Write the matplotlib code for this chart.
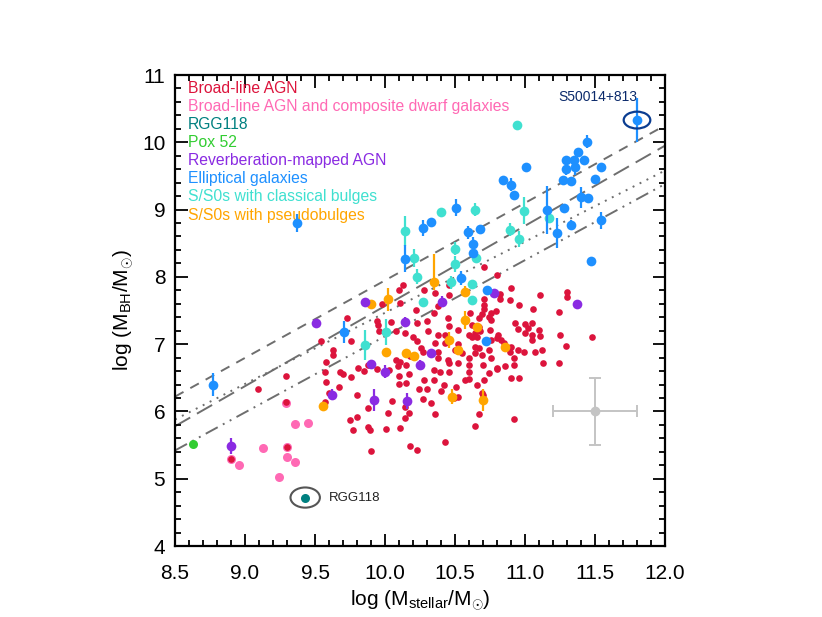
import numpy as np
import matplotlib
matplotlib.use("Agg")
import matplotlib.pyplot as plt
from matplotlib.patches import Ellipse

plt.rcParams['font.family'] = ['Liberation Sans', 'DejaVu Sans']
plt.rcParams['mathtext.fontset'] = 'custom'
plt.rcParams['mathtext.rm'] = 'Liberation Sans'
plt.rcParams['mathtext.it'] = 'Liberation Sans:italic'

# ---------------- data ----------------
# Broad-line AGN (log Mstellar, log MBH)
red_x = [10.13, 10.10, 10.28, 9.98, 10.11, 10.22, 9.73, 9.94, 10.04, 9.95, 10.30, 10.23, 9.96, 10.08,
         10.14, 10.31, 9.54, 9.76, 10.20, 10.23, 9.63, 9.63, 10.26, 10.27, 10.18, 10.08, 10.11, 9.58,
         9.81, 9.88, 9.94, 10.15, 10.25,
         10.80, 10.71, 10.46, 10.46, 10.36, 10.90, 10.82, 10.82, 11.11, 11.30, 11.30, 10.71, 10.71,
         10.71, 10.89, 10.96, 11.06, 11.24, 10.38, 10.35, 10.61, 10.79, 10.76, 10.69, 10.67, 10.74,
         10.76, 10.45, 10.57, 10.62, 10.67, 10.46, 10.52, 10.64, 10.68, 10.75, 10.81, 10.93, 11.00,
         11.05, 10.95, 11.02, 11.10, 11.00, 11.05, 11.05, 11.11, 11.25, 10.38, 10.43, 10.60, 10.62,
         10.66, 10.36, 10.43, 10.52, 10.76, 10.80, 10.83, 10.85, 10.87, 10.90, 10.89, 10.95, 10.92,
         10.64, 10.67, 10.74, 10.64, 10.69, 10.76, 10.60, 10.55, 10.50, 10.38, 10.38, 10.45, 10.46,
         10.52, 10.60, 10.70, 10.80, 10.86, 10.92, 10.99, 11.07, 11.12, 11.29, 11.13, 11.24, 11.48,
         9.29, 9.57, 9.68, 9.70, 9.76, 9.85, 10.03, 10.09, 10.17, 10.10, 9.58, 9.67, 10.10, 10.15,
         10.24, 10.28, 10.30, 9.60, 9.57, 9.80, 10.05, 10.27, 9.88, 10.02, 10.17, 10.14, 9.80, 9.75,
         10.11, 9.88, 9.89, 10.01, 9.77, 10.18, 10.23, 9.90, 10.14,
         10.35, 10.39, 10.35, 10.40, 10.42, 10.46, 10.60, 10.57, 10.60, 10.51, 10.66, 10.71, 10.74,
         10.80, 10.90, 10.96, 10.69, 10.70, 10.49, 10.52, 10.33, 10.36, 10.67, 10.64, 10.92, 10.43,
         9.09, 8.90, 9.30, 9.29]
red_y = [7.88, 7.80, 7.80, 7.59, 7.61, 7.51, 7.39, 7.35, 7.33, 7.28, 7.34, 7.31, 7.19, 7.19,
         7.16, 7.19, 7.04, 7.04, 7.11, 7.04, 6.91, 6.84, 6.95, 6.89, 6.83, 6.77, 6.74, 6.73,
         6.65, 6.69, 6.63, 6.69, 6.67,
         8.03, 8.15, 7.88, 7.73, 7.76, 7.83, 7.75, 7.67, 7.73, 7.77, 7.70, 7.67, 7.58,
         7.52, 7.65, 7.58, 7.52, 7.48, 7.57, 7.47, 7.47, 7.50, 7.46, 7.45, 7.39, 7.41,
         7.36, 7.39, 7.34, 7.29, 7.26, 7.27, 7.21, 7.16, 7.19, 7.21, 7.14, 7.31, 7.30,
         7.31, 7.22, 7.24, 7.21, 7.16, 7.14, 7.06, 7.12, 7.14, 7.14, 7.14, 7.14, 7.11,
         7.11, 7.01, 7.01, 7.00, 7.06, 7.09, 7.06, 7.01, 6.96, 6.96, 6.89, 6.91, 6.80,
         6.96, 6.94, 6.91, 6.87, 6.84, 6.79, 6.79, 6.87, 6.91, 6.89, 6.79, 6.77, 6.72,
         6.72, 6.69, 6.69, 6.64, 6.67, 6.69, 6.89, 6.89, 6.91, 6.97, 6.72, 6.72, 7.10,
         6.52, 6.58, 6.59, 6.55, 6.51, 6.60, 6.62, 6.68, 6.55, 6.52, 6.43, 6.37, 6.41, 6.42,
         6.34, 6.47, 6.34, 6.27, 6.14, 6.25, 6.15, 6.18, 6.05, 5.98, 5.97, 5.90, 5.92, 5.87,
         5.76, 5.77, 5.72, 5.74, 5.72, 5.49, 5.42, 5.41, 6.06,
         6.62, 6.59, 6.47, 6.30, 6.39, 6.58, 6.59, 6.47, 6.48, 6.37, 6.39, 6.47, 6.57,
         6.63, 6.49, 6.49, 6.28, 6.24, 6.20, 6.22, 6.12, 5.96, 5.96, 5.79, 5.89, 5.54,
         6.33, 5.30, 5.47, 6.14]

# Broad-line AGN and composite dwarf galaxies
pink_x = [8.90, 8.96, 9.13, 9.30, 9.30, 9.36, 9.24, 9.36, 9.45, 9.29]
pink_y = [5.30, 5.20, 5.45, 5.47, 5.32, 5.25, 5.02, 5.82, 5.83, 6.13]

# RGG118 and Pox 52
rgg_x, rgg_y = [9.43], [4.72]
pox_x, pox_y = [8.63], [5.51]

# Reverberation-mapped AGN
rm_x = [8.90, 9.51, 9.62, 9.86, 9.92, 9.90, 10.00, 10.14, 10.16, 10.25, 10.33, 10.41, 10.78, 11.37]
rm_y = [5.48, 7.31, 6.25, 7.62, 6.17, 6.71, 6.59, 7.33, 6.16, 6.69, 6.87, 7.63, 7.76, 7.60]
rm_e = [0.12, 0.0, 0.08, 0.0, 0.16, 0.0, 0.10, 0.08, 0.12, 0.08, 0.0, 0.08, 0.0, 0.0]

# Elliptical galaxies
ell_x = [8.77, 9.37, 9.71, 10.14, 10.27, 10.33, 10.51, 10.54, 10.59, 10.63, 10.63, 10.68, 10.73,
         10.72, 10.84, 10.90, 10.92, 11.01, 11.16, 11.23, 11.28, 11.27, 11.29, 11.29, 11.33, 11.33,
         11.35, 11.36, 11.38, 11.40, 11.42, 11.44, 11.45, 11.47, 11.50, 11.54, 11.54, 11.80]
ell_y = [6.40, 8.80, 7.18, 8.27, 8.72, 8.82, 9.03, 7.98, 8.66, 8.49, 8.36, 8.71, 7.80,
         7.05, 9.44, 9.37, 9.22, 9.64, 8.99, 8.65, 9.02, 9.44, 9.61, 9.73, 9.42, 8.77,
         9.73, 9.63, 9.85, 9.18, 9.73, 10.01, 9.17, 8.23, 9.46, 9.63, 8.84, 10.33]
ell_e = [0.17, 0.13, 0.16, 0.20, 0.12, 0.0, 0.12, 0.10, 0.10, 0.10, 0.0, 0.0, 0.0,
         0.0, 0.0, 0.10, 0.0, 0.0, 0.36, 0.22, 0.0, 0.0, 0.10, 0.0, 0.0, 0.08,
         0.0, 0.12, 0.0, 0.15, 0.0, 0.10, 0.0, 0.0, 0.0, 0.0, 0.13, 0.33]

# S/S0s with classical bulges
cls_x = [9.86, 10.01, 10.14, 10.21, 10.23, 10.27, 10.40, 10.47, 10.50, 10.50, 10.62, 10.62,
         10.64, 10.65, 10.89, 10.94, 10.96, 10.99, 11.17]
cls_y = [6.99, 7.18, 8.68, 8.28, 8.00, 7.62, 8.97, 7.92, 8.42, 8.19, 7.89, 7.66,
         9.00, 8.28, 8.70, 10.26, 8.56, 8.98, 8.87]
cls_e = [0.22, 0.20, 0.22, 0.13, 0.11, 0.0, 0.0, 0.10, 0.10, 0.12, 0.0, 0.0,
         0.10, 0.0, 0.10, 0.05, 0.12, 0.20, 0.0]

# S/S0s with pseudobulges
pse_x = [9.56, 9.90, 10.02, 10.01, 10.15, 10.21, 10.35, 10.57, 10.57, 10.66, 10.46, 10.52,
         10.86, 10.48, 10.70]
pse_y = [6.08, 7.60, 7.67, 6.88, 6.87, 6.82, 7.92, 7.78, 7.36, 7.26, 7.06, 6.91,
         6.96, 6.22, 6.17]
pse_elo = [0.05, 0.0, 0.17, 0.0, 0.0, 0.0, 0.12, 0.08, 0.13, 0.0, 0.12, 0.0, 0.0, 0.11, 0.17]
pse_ehi = [0.05, 0.0, 0.17, 0.0, 0.0, 0.0, 0.42, 0.08, 0.13, 0.0, 0.12, 0.0, 0.0, 0.11, 0.17]

# scaling relations: y at x = 8.5 and x = 12.0
line_x = [8.5, 12.0]
rel_dashed = [6.22, 10.25]
rel_longdash = [5.78, 9.95]
rel_dotted = [5.88, 9.58]
rel_dashdot = [5.42, 9.38]

# typical uncertainty
unc_x, unc_y, unc_xerr, unc_yerr = 11.5, 6.0, 0.3, 0.5

legend_labels = ["Broad-line AGN", "Broad-line AGN and composite dwarf galaxies", "RGG118", "Pox 52",
                 "Reverberation-mapped AGN", "Elliptical galaxies", "S/S0s with classical bulges",
                 "S/S0s with pseudobulges"]

C_RED = '#DC143C'
C_PINK = '#FF69B4'
C_TEAL = '#008080'
C_GREEN = '#32CD32'
C_PURPLE = '#8A2BE2'
C_BLUE = '#1E90FF'
C_CYAN = '#40E0D0'
C_ORANGE = '#FFA500'
legend_colors = [C_RED, C_PINK, C_TEAL, C_GREEN, C_PURPLE, C_BLUE, C_CYAN, C_ORANGE]

# ---------------- figure ----------------
fig = plt.figure(figsize=(8.22, 6.17), dpi=100)
ax = fig.add_axes([175/822, 1-546/617, 490/822, 471/617])

ax.set_xlim(8.5, 12.0)
ax.set_ylim(4.0, 11.0)

lc = '#6e6e6e'
ax.plot(line_x, rel_dashed, color=lc, lw=1.4, dashes=(5, 4), zorder=1)
ax.plot(line_x, rel_longdash, color=lc, lw=1.4, dashes=(9, 4), zorder=1)
ax.plot(line_x, rel_dotted, color=lc, lw=1.4, dashes=(1, 3), zorder=1)
ax.plot(line_x, rel_dashdot, color=lc, lw=1.4, dashes=(7, 3, 1, 3, 1, 3), zorder=1)

ax.errorbar([unc_x], [unc_y], xerr=[unc_xerr], yerr=[unc_yerr], fmt='o', color='#c4c4c4',
            ms=6, elinewidth=1.4, capsize=4, capthick=1.4, zorder=2)

ms_big = 7
ax.plot(pink_x, pink_y, 'o', color=C_PINK, ms=6.5, mec='none', zorder=3)
ax.plot(red_x, red_y, 'o', color=C_RED, ms=4.8, mec='none', zorder=4)

def eb(x, y, e, c, z):
    ax.errorbar(x, y, yerr=e, fmt='o', color=c, ms=ms_big, mec='none', elinewidth=1.6,
                capsize=0, zorder=z)

eb(cls_x, cls_y, cls_e, C_CYAN, 5)
eb(pse_x, pse_y, [pse_elo, pse_ehi], C_ORANGE, 6)
eb(rm_x, rm_y, rm_e, C_PURPLE, 6)
eb(ell_x, ell_y, ell_e, C_BLUE, 7)
ax.plot(pox_x, pox_y, 'o', color=C_GREEN, ms=6.5, mec='none', zorder=7)
ax.plot(rgg_x, rgg_y, 'o', color=C_TEAL, ms=6.5, mec='none', zorder=7)

# annotations
ax.add_patch(Ellipse((rgg_x[0], rgg_y[0]), 0.21, 0.30, fill=False, ec='#555555', lw=1.5, zorder=8))
ax.text(rgg_x[0] + 0.17, rgg_y[0], "RGG118", fontsize=9.5, va='center', ha='left', color='#222222')
ax.add_patch(Ellipse((ell_x[-1], ell_y[-1]), 0.19, 0.25, fill=False, ec='#0b3d91', lw=1.6, zorder=8))
ax.text(ell_x[-1] - 0.28, ell_y[-1] + 0.34, "S50014+813", fontsize=10, va='center', ha='center',
        color='#0b2a6b')

# legend text
for i, (lab, col) in enumerate(zip(legend_labels, legend_colors)):
    ax.text(0.027, 0.972 - i * 0.0385, lab, color=col, fontsize=11.3, transform=ax.transAxes,
            ha='left', va='center')

# axes style
ax.set_xticks(np.arange(8.5, 12.01, 0.5))
ax.set_xticks(np.arange(8.5, 12.01, 0.1), minor=True)
ax.set_yticks(np.arange(4, 11.01, 1))
ax.set_yticks(np.arange(4, 11.01, 0.2), minor=True)
ax.set_xticklabels([f"{v:.1f}" for v in np.arange(8.5, 12.01, 0.5)])
ax.tick_params(which='both', direction='in', top=True, right=True, labelsize=15, width=1.3)
ax.tick_params(which='major', length=9)
ax.tick_params(axis='x', which='major', pad=13)
ax.tick_params(axis='y', which='major', pad=7)
ax.tick_params(which='minor', length=4.5)
for s in ax.spines.values():
    s.set_linewidth(1.6)

ax.set_xlabel(r"log (M$_{\rm stellar}$/M$_{\odot}$)", fontsize=15, labelpad=4)
ax.set_ylabel(r"log (M$_{\rm BH}$/M$_{\odot}$)", fontsize=15, labelpad=4)

fig.savefig("out.png", dpi=100)
